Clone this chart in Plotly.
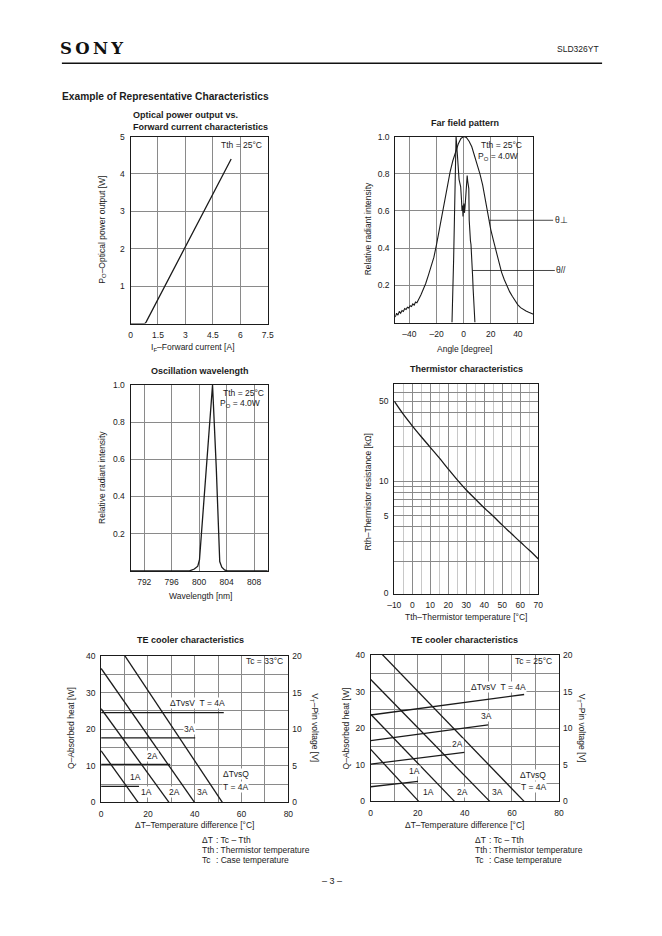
import plotly.graph_objects as go

# ---------------- data ----------------
# Optical power output vs. forward current (Tth = 25°C)
if_current = [0.0, 0.78, 0.85, 1.5, 2.25, 3.0, 3.75, 4.5, 5.0, 5.5]
po_power = [0.0, 0.0, 0.04, 0.65, 1.36, 2.05, 2.76, 3.48, 3.94, 4.4]

# Far field pattern
ff_perp_angle = [-50.5, -49.5, -48.5, -47.5, -46.5, -45.5, -44.5, -43.5, -42.5, -41.5,
                 -40.5, -39.5, -38.5, -37.5, -36.5, -35.5, -34.5, -33.5, -32.5, -31.5,
                 -30, -28, -26, -24, -22, -20, -18, -16, -14, -12, -10, -8, -6, -4, -2,
                 0, 2, 4, 6, 8, 10, 12, 14, 16, 18, 20, 22, 24, 26, 28, 30, 32, 34, 36,
                 38, 40, 42, 44, 46, 48, 50, 51.5]
ff_perp_int = [0.03, 0.05, 0.04, 0.06, 0.05, 0.065, 0.06, 0.075, 0.07, 0.082,
               0.078, 0.09, 0.086, 0.1, 0.094, 0.11, 0.106, 0.125, 0.135, 0.15,
               0.175, 0.21, 0.255, 0.3, 0.35, 0.42, 0.5, 0.59, 0.67, 0.74, 0.81, 0.87,
               0.92, 0.96, 0.99,
               1.0, 0.995, 0.975, 0.945, 0.90, 0.855, 0.80, 0.74, 0.655, 0.565, 0.50,
               0.44, 0.38, 0.32, 0.27, 0.23, 0.195, 0.165, 0.14, 0.115, 0.095, 0.08,
               0.07, 0.062, 0.055, 0.05, 0.045]
ff_par_angle = [-8.6, -8.0, -7.4, -6.8, -6.2, -5.6, -5.2, -4.6, -4.0, -3.4, -2.8, -2.2,
                -1.6, -1.2, -0.8, -0.5, -0.2, 0.2, 0.6, 1.0, 1.4, 1.8, 2.2, 2.6, 3.0,
                3.4, 3.8, 4.1, 4.3, 4.6, 5.0, 5.4, 5.8, 6.2, 6.6, 7.0, 7.4, 7.8, 8.3]
ff_par_int = [0, 0.12, 0.34, 0.56, 0.78, 1.0, 0.96, 0.9, 0.8, 0.77, 0.75, 0.73,
              0.66, 0.60, 0.63, 0.57, 0.61, 0.64, 0.59, 0.62, 0.68, 0.72, 0.78, 0.79, 0.76,
              0.74, 0.72, 0.55, 0.5, 0.52, 0.44, 0.42, 0.38, 0.31, 0.25, 0.18, 0.1, 0.04, 0]

# Oscillation wavelength
wl_nm = [790, 798.6, 799.3, 799.8, 800.05, 800.9, 801.95, 802.5, 802.85, 803.0, 803.3, 803.7, 804.1, 810]
wl_int = [0, 0, 0.01, 0.025, 0.06, 0.5, 1.0, 0.55, 0.12, 0.05, 0.02, 0.005, 0, 0]

# Thermistor characteristics
th_temp = [-10, -5, 0, 5, 10, 15, 20, 25, 30, 35, 40, 45, 50, 55, 60, 65, 70]
th_res = [50, 38.5, 30.5, 24.5, 19.8, 16.0, 12.8, 10.3, 8.4, 7.0, 5.85, 4.95, 4.15, 3.5, 2.95, 2.5, 2.1]

# TE cooler characteristics (1A, 2A, 3A, 4A)
te_currents = ["1A", "2A", "3A", "4A"]
te33_q_dt = [[0, 15.8], [0, 29.0], [0, 39.9], [0, 51.8]]
te33_q = [[14.1, 0], [25.6, 0], [36.6, 0], [49.8, 0]]
te33_v_dt = [[0, 16.2], [0, 29.5], [0, 40.2], [0, 52.4]]
te33_v = [[2.2, 2.2], [5.2, 5.2], [8.8, 8.8], [12.25, 12.25]]
te25_q_dt = [[0, 20.4], [0, 35.6], [0, 50.6], [0, 65.2]]
te25_q = [[14.2, 0], [23.8, 0], [33.3, 0], [43.4, 0]]
te25_v_dt = [[0, 20.1], [0, 39.8], [0, 49.9], [0, 65.2]]
te25_v = [[2.0, 2.75], [5.1, 6.7], [8.3, 10.45], [11.8, 14.6]]

# ---------------- layout helpers ----------------
W, H = 662, 936
FONT = "Liberation Sans, Arial, Helvetica, sans-serif"
INK = "#1b1b1b"
GRID = "#8a8a8a"
LIGHT = "#c8c8c8"


def fx(px):
    return px / W


def fy(py):
    return 1 - py / H


def axis(lo, hi, anchor, **kw):
    d = dict(domain=[lo, hi], anchor=anchor, showline=True, mirror=True,
             linecolor=INK, linewidth=1, showgrid=True, gridcolor=GRID, gridwidth=0.8,
             zeroline=False, ticks="", ticklabelstandoff=3,
             tickfont=dict(family=FONT, size=8.5, color=INK), fixedrange=True)
    d.update(kw)
    return d


fig = go.Figure()
line = dict(color=INK, width=1.3)

fig.add_trace(go.Scatter(x=if_current, y=po_power, xaxis="x", yaxis="y", mode="lines", line=line))
fig.add_trace(go.Scatter(x=ff_perp_angle, y=ff_perp_int, xaxis="x2", yaxis="y2", mode="lines", line=dict(color=INK, width=1.1)))
fig.add_trace(go.Scatter(x=ff_par_angle, y=ff_par_int, xaxis="x2", yaxis="y2", mode="lines", line=dict(color=INK, width=1.1)))
fig.add_trace(go.Scatter(x=wl_nm, y=wl_int, xaxis="x3", yaxis="y3", mode="lines", line=line))
fig.add_trace(go.Scatter(x=th_temp, y=th_res, xaxis="x4", yaxis="y4", mode="lines", line=dict(shape="spline", color=INK, width=1.3)))
for i in range(4):
    fig.add_trace(go.Scatter(x=te33_q_dt[i], y=te33_q[i], xaxis="x5", yaxis="y5", mode="lines", line=line))
    fig.add_trace(go.Scatter(x=te33_v_dt[i], y=te33_v[i], xaxis="x5", yaxis="y7", mode="lines", line=line))
    fig.add_trace(go.Scatter(x=te25_q_dt[i], y=te25_q[i], xaxis="x6", yaxis="y6", mode="lines", line=line))
    fig.add_trace(go.Scatter(x=te25_v_dt[i], y=te25_v[i], xaxis="x6", yaxis="y8", mode="lines", line=line))

# plot frames in pixels
P1 = (126, 266, 133, 322)
P2 = (396, 537, 133, 321)
P3 = (126, 266, 384, 572)
P4 = (395, 542, 383, 595)
P5 = (96, 287, 658, 806)
P6 = (371, 563, 657, 805)


def xd(p):
    return fx(p[0]), fx(p[1])


def yd(p):
    return fy(p[3]), fy(p[2])


te_x = dict(range=[0, 80], tickvals=[0, 20, 40, 60, 80],
            minor=dict(tickvals=[10, 30, 50, 70], showgrid=True, gridcolor=GRID, gridwidth=0.8))
te_y = dict(range=[0, 40], tickvals=[0, 10, 20, 30, 40],
            minor=dict(tickvals=[5, 15, 25, 35], showgrid=True, gridcolor=GRID, gridwidth=0.8))

fig.update_layout(
    xaxis=axis(*xd(P1), "y", range=[0, 7.5], tickvals=[0, 1.5, 3, 4.5, 6, 7.5]),
    yaxis=axis(*yd(P1), "x", range=[0, 5], tickvals=[1, 2, 3, 4, 5]),
    xaxis2=axis(*xd(P2), "y2", range=[-50.5, 51.5], tickvals=[-40, -20, 0, 20, 40],
                ticktext=["–40", "–20", "0", "20", "40"]),
    yaxis2=axis(*yd(P2), "x2", range=[0, 1], tickvals=[0.2, 0.4, 0.6, 0.8, 1.0],
                ticktext=["0.2", "0.4", "0.6", "0.8", "1.0"]),
    xaxis3=axis(*xd(P3), "y3", range=[790, 810], tickvals=[792, 796, 800, 804, 808]),
    yaxis3=axis(*yd(P3), "x3", range=[0, 1], tickvals=[0.2, 0.4, 0.6, 0.8, 1.0],
                ticktext=["0.2", "0.4", "0.6", "0.8", "1.0"]),
    xaxis4=axis(*xd(P4), "y4", range=[-10, 70], tickvals=list(range(-10, 71, 10)),
                ticktext=["–10", "0", "10", "20", "30", "40", "50", "60", "70"],
                minor=dict(tickvals=list(range(-5, 70, 10)), showgrid=True, gridcolor=LIGHT, gridwidth=1.2)),
    yaxis4=axis(*yd(P4), "x4", type="log", range=[0.02, 1.85],
                tickvals=[1.05, 5, 10, 50], ticktext=["0", "5", "10", "50"],
                minor=dict(tickvals=[2, 3, 4, 6, 7, 8, 9, 20, 30, 40, 60], showgrid=True,
                           gridcolor=GRID, gridwidth=0.8)),
    xaxis5=axis(*xd(P5), "y5", **te_x),
    yaxis5=axis(*yd(P5), "x5", **te_y),
    yaxis7=axis(*yd(P5), "x5", overlaying="y5", side="right", range=[0, 20],
                tickvals=[0, 5, 10, 15, 20], showgrid=False, showline=False),
    xaxis6=axis(*xd(P6), "y6", **te_x),
    yaxis6=axis(*yd(P6), "x6", **te_y),
    yaxis8=axis(*yd(P6), "x6", overlaying="y6", side="right", range=[0, 20],
                tickvals=[0, 5, 10, 15, 20], showgrid=False, showline=False),
)

ann = []


def txt(x, y, s, size=8.5, bold=False, xanchor="center", angle=0, bg=None, align="center"):
    a = dict(x=fx(x), y=fy(y), xref="paper", yref="paper", text=("<b>%s</b>" % s) if bold else s,
             showarrow=False, xanchor=xanchor, yanchor="middle", textangle=angle, align=align,
             font=dict(family=FONT, size=size, color=INK))
    if bg:
        a["bgcolor"] = bg
        a["borderpad"] = 0
    ann.append(a)


# header
ann.append(dict(x=fx(52), y=fy(44), xref="paper", yref="paper",
                text="<b>S\u2009O\u2009N\u2009Y</b>", showarrow=False,
                xanchor="left", yanchor="middle",
                font=dict(family="DejaVu Serif, Liberation Serif, serif", size=16.5, color="#111")))
txt(606, 44, "SLD326YT", size=8.5, xanchor="right")
txt(54, 92, "Example of Representative Characteristics", size=10.2, bold=True, xanchor="left")

# titles
ann.append(dict(x=fx(126.5), y=fy(117), xref="paper", yref="paper",
                text="<b>Optical power output vs.<br>Forward current characteristics</b>",
                showarrow=False, xanchor="left", yanchor="middle", align="left",
                font=dict(family=FONT, size=9, color=INK)))
txt(467, 119, "Far field pattern", size=9, bold=True)
txt(197, 369.5, "Oscillation wavelength", size=9, bold=True)
txt(469, 367.5, "Thermistor characteristics", size=9, bold=True)
txt(187, 642, "TE cooler characteristics", size=9, bold=True)
txt(467, 642, "TE cooler characteristics", size=9, bold=True)

# axis titles
txt(97, 227, "P<sub>O</sub>–Optical power output [W]", angle=-90)
txt(190, 346.5, "I<sub>F</sub>–Forward current [A]")
txt(368, 226, "Relative radiant intensity", angle=-90)
txt(467, 348, "Angle [degree]")
txt(97, 478, "Relative radiant intensity", angle=-90)
txt(197, 597, "Wavelength [nm]")
txt(368, 492, "Rth–Thermistor resistance [kΩ]", angle=-90)
txt(468, 618.5, "Tth–Thermistor temperature [°C]")
txt(65, 731, "Q–Absorbed heat [W]", angle=-90)
txt(191, 829, "ΔT–Temperature difference [°C]")
txt(314, 731, "V<sub>T</sub>–Pin voltage [V]", angle=90)
txt(346, 731, "Q–Absorbed heat [W]", angle=-90)
txt(467, 829, "ΔT–Temperature difference [°C]")
txt(586, 731, "V<sub>T</sub>–Pin voltage [V]", angle=90)

# in-plot notes
txt(262, 142, "Tth = 25°C", xanchor="right")
txt(527, 142, "Tth = 25°C", xanchor="right")
txt(523, 153, "P<sub>O</sub> = 4.0W", xanchor="right")
txt(264, 392, "Tth = 25°C", xanchor="right")
txt(260, 403, "P<sub>O</sub> = 4.0W", xanchor="right")
txt(283.5, 663.5, "Tc = 33°C", xanchor="right")
txt(558, 663.5, "Tc = 25°C", xanchor="right")

# far field leaders
ann.append(dict(x=18.8, y=0.55, xref="x2", yref="y2", text="θ⊥", showarrow=True, arrowhead=0,
                arrowwidth=0.8, arrowcolor=INK, ax=72, ay=0, font=dict(family=FONT, size=8.5, color=INK)))
ann.append(dict(x=6.4, y=0.28, xref="x2", yref="y2", text="θ//", showarrow=True, arrowhead=0,
                arrowwidth=0.8, arrowcolor=INK, ax=89, ay=0, font=dict(family=FONT, size=8.5, color=INK)))

# TE cooler labels (Tc = 33°C)
txt(194, 706, "ΔTvsV  T = 4A", bg="white")
txt(186, 731.7, "3A", bg="white")
txt(148, 758.7, "2A", bg="white")
txt(131.3, 780.7, "1A", bg="white")
txt(142.3, 795.7, "1A", bg="white")
txt(170.5, 795.7, "2A", bg="white")
txt(199.7, 795.7, "3A", bg="white")
txt(219, 777.7, "ΔTvsQ", xanchor="left", bg="white")
txt(219, 790, "T = 4A", xanchor="left", bg="white")
# TE cooler labels (Tc = 25°C)
txt(501.7, 689.3, "ΔTvsV  T = 4A", bg="white")
txt(488.8, 719, "3A", bg="white")
txt(459.7, 746.7, "2A", bg="white")
txt(415.8, 774.7, "1A", bg="white")
txt(430, 795.7, "1A", bg="white")
txt(464.7, 795.7, "2A", bg="white")
txt(500.3, 795.7, "3A", bg="white")
txt(522.7, 778.3, "ΔTvsQ", xanchor="left", bg="white")
txt(523, 790, "T = 4A", xanchor="left", bg="white")

# footnotes
for x0 in (196.7, 475):
    txt(x0, 844.3, "ΔT", xanchor="left")
    txt(x0, 854.3, "Tth", xanchor="left")
    txt(x0, 864.5, "Tc", xanchor="left")
    txt(x0 + 14.5, 844.3, ": Tc – Tth", xanchor="left")
    txt(x0 + 14.5, 854.3, ": Thermistor temperature", xanchor="left")
    txt(x0 + 14.5, 864.5, ": Case temperature", xanchor="left")
txt(331, 885.5, "– 3 –", size=9)

fig.update_layout(
    annotations=ann,
    shapes=[dict(type="line", xref="paper", yref="paper", x0=fx(56), x1=fx(607), y0=fy(59), y1=fy(59),
                 line=dict(color="#111", width=1.5))],
    width=W, height=H, margin=dict(l=0, r=0, t=0, b=0),
    paper_bgcolor="white", plot_bgcolor="white", showlegend=False,
    font=dict(family=FONT, size=8.5, color=INK),
)

fig.write_html("out.html", config={"displayModeBar": False},
               post_script="document.body.style.margin='0';document.body.style.overflow='hidden';")
